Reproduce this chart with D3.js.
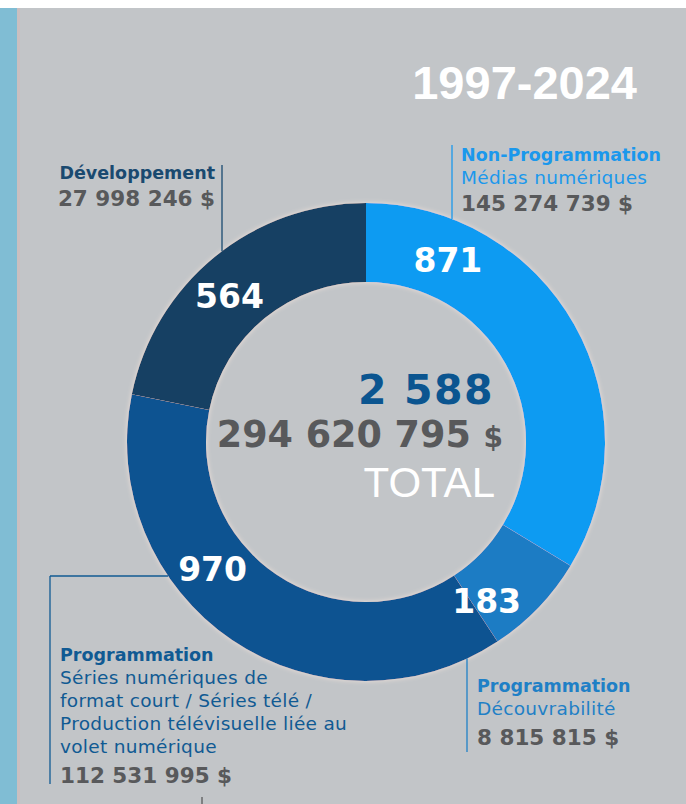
<!DOCTYPE html>
<html>
<head>
<meta charset="utf-8">
<script src="https://cdn.jsdelivr.net/npm/d3@7"></script>
<style>
  body { margin: 0; background: #fff; }
</style>
</head>
<body>
<div id="chart"></div>
<script>
// data
const period = '1997-2024';
const counts = [871, 183, 970, 564];
const amounts = [145274739, 8815815, 112531995, 27998246];
const titles = ['Non-Programmation', 'Programmation', 'Programmation', 'Développement'];
const subtitles = [
  ['Médias numériques'],
  ['Découvrabilité'],
  ['Séries numériques de', 'format court / Séries télé /', 'Production télévisuelle liée au', 'volet numérique'],
  []
];
const totalLabel = 'TOTAL';

const width = 686, height = 804;
const cx = 366, cy = 442, rOuter = 239, rInner = 160;

const colors = ['#0a9bf2', '#1a7bc4', '#0a5391', '#143f63'];
const titleColors = ['#1b98ec', '#1f80c6', '#105a93', '#1a4a70'];
const grey = '#58595b';
const boldFont = '"DejaVu Sans", sans-serif';
const plainFont = '"DejaVu Sans", sans-serif';
const arialFont = '"Liberation Sans", Arial, sans-serif';

// where each count sits along its slice (0 = start, 1 = end)
const labelFrac = [0.2, 0.85, 0.62, 0.45];

// legend blocks: text anchor point and connector line
const legend = [
  { x: 461, y: 161, anchor: 'start', lineX: 452, lineTop: 145, toRing: 'top' },
  { x: 477, y: 692, anchor: 'start', lineX: 467, lineBottom: 752, toRing: 'bottom' },
  { x: 60, y: 661, anchor: 'start', lineX: 50, lineTop: 576, lineBottom: 784, elbow: true },
  { x: 215, y: 179, anchor: 'end', lineX: 222, lineTop: 165, toRing: 'top' }
];

const locale = d3.formatLocale({ decimal: ',', thousands: '\u00a0', grouping: [3], currency: ['', ' $'] });
const fmt = locale.format(',');

const svg = d3.select('#chart')
  .append('svg')
  .attr('width', width)
  .attr('height', height);

// background panel
svg.append('rect').attr('x', 0).attr('y', 8).attr('width', width).attr('height', height - 8).attr('fill', '#c2c5c8');
svg.append('rect').attr('x', 0).attr('y', 8).attr('width', 17).attr('height', height - 8).attr('fill', '#80bdd4');
svg.append('rect').attr('x', 17).attr('y', 8).attr('width', 3).attr('height', height - 8).attr('fill', '#c9bfc0');

// soft halo round the ring
const defs = svg.append('defs');
const halo = defs.append('filter').attr('id', 'halo').attr('x', '-20%').attr('y', '-20%').attr('width', '140%').attr('height', '140%');
halo.append('feDropShadow')
  .attr('dx', 0).attr('dy', 0)
  .attr('stdDeviation', 2.5)
  .attr('flood-color', '#f4e4dc')
  .attr('flood-opacity', 0.9);

// title
svg.append('text')
  .attr('x', 637)
  .attr('y', 99)
  .attr('text-anchor', 'end')
  .attr('font-family', arialFont)
  .attr('font-weight', 'bold')
  .attr('font-size', '47px')
  .attr('fill', '#ffffff')
  .text(period);

// donut
const pie = d3.pie().sort(null).value(d => d);
const arcs = pie(counts);
const arc = d3.arc().innerRadius(rInner).outerRadius(rOuter);

const ring = svg.append('g')
  .attr('transform', `translate(${cx}, ${cy})`);

ring.append('g')
  .attr('filter', 'url(#halo)')
  .selectAll('path')
  .data(arcs)
  .enter()
  .append('path')
  .attr('d', arc)
  .attr('fill', (d, i) => colors[i]);

// counts on the slices
ring.selectAll('.count')
  .data(arcs)
  .enter()
  .append('text')
  .attr('class', 'count')
  .attr('transform', (d, i) => {
    const a = d.startAngle + (d.endAngle - d.startAngle) * labelFrac[i];
    const r = (rInner + rOuter) / 2;
    return `translate(${r * Math.sin(a)}, ${-r * Math.cos(a)})`;
  })
  .attr('text-anchor', 'middle')
  .attr('dy', '0.36em')
  .attr('font-family', boldFont)
  .attr('font-weight', 'bold')
  .attr('font-size', '33px')
  .attr('fill', '#ffffff')
  .text(d => fmt(d.value));

// centre totals
svg.append('text')
  .attr('x', 494)
  .attr('y', 404)
  .attr('text-anchor', 'end')
  .attr('font-family', boldFont)
  .attr('font-weight', 'bold')
  .attr('font-size', '41px')
  .attr('letter-spacing', '1.5px')
  .attr('fill', '#0b5590')
  .text(fmt(d3.sum(counts)));

const totalAmount = svg.append('text')
  .attr('x', 503)
  .attr('y', 447)
  .attr('text-anchor', 'end')
  .attr('font-family', boldFont)
  .attr('font-weight', 'bold')
  .attr('font-size', '36.5px')
  .attr('fill', grey);
totalAmount.append('tspan').text(fmt(d3.sum(amounts)) + ' ');
totalAmount.append('tspan').attr('font-size', '28px').text('$');

svg.append('text')
  .attr('x', 495)
  .attr('y', 497)
  .attr('text-anchor', 'end')
  .attr('font-family', arialFont)
  .attr('font-size', '42px')
  .attr('fill', '#ffffff')
  .text(totalLabel);

// legend blocks
legend.forEach((L, i) => {
  const g = svg.append('g');
  const lineColor = titleColors[i];

  // connector
  const half = Math.sqrt(rOuter * rOuter - (L.lineX - cx) * (L.lineX - cx));
  let y1, y2;
  if (L.toRing === 'top') { y1 = L.lineTop; y2 = cy - half; }
  else if (L.toRing === 'bottom') { y1 = cy + half; y2 = L.lineBottom; }
  else { y1 = L.lineTop; y2 = L.lineBottom; }
  g.append('line')
    .attr('x1', L.lineX).attr('x2', L.lineX)
    .attr('y1', y1).attr('y2', y2)
    .attr('stroke', lineColor).attr('stroke-width', 1.3);
  if (L.elbow) {
    const hx = cx - Math.sqrt(rOuter * rOuter - (L.lineTop - cy) * (L.lineTop - cy));
    g.append('line')
      .attr('x1', L.lineX).attr('x2', hx)
      .attr('y1', L.lineTop).attr('y2', L.lineTop)
      .attr('stroke', lineColor).attr('stroke-width', 1.3);
  }

  g.append('text')
    .attr('x', L.x).attr('y', L.y)
    .attr('text-anchor', L.anchor)
    .attr('font-family', boldFont)
    .attr('font-weight', 'bold')
    .attr('font-size', '17.5px')
    .attr('fill', titleColors[i])
    .text(titles[i]);

  subtitles[i].forEach((s, j) => {
    g.append('text')
      .attr('x', L.x).attr('y', L.y + 23 * (j + 1))
      .attr('text-anchor', L.anchor)
      .attr('font-family', plainFont)
      .attr('font-size', '18.5px')
      .attr('letter-spacing', '0.3px')
      .attr('fill', titleColors[i])
      .text(s);
  });

  const gap = i === 0 || i === 3 ? 27 : 30;
  g.append('text')
    .attr('x', L.x).attr('y', L.y + 23 * subtitles[i].length + gap)
    .attr('text-anchor', L.anchor)
    .attr('font-family', boldFont)
    .attr('font-weight', 'bold')
    .attr('font-size', '21.5px')
    .attr('fill', grey)
    .text(fmt(amounts[i]) + ' $');
});

// small tick at the bottom edge
svg.append('line')
  .attr('x1', 202).attr('x2', 202)
  .attr('y1', 797).attr('y2', 804)
  .attr('stroke', '#3a3a3a').attr('stroke-width', 1);
</script>
</body>
</html>
